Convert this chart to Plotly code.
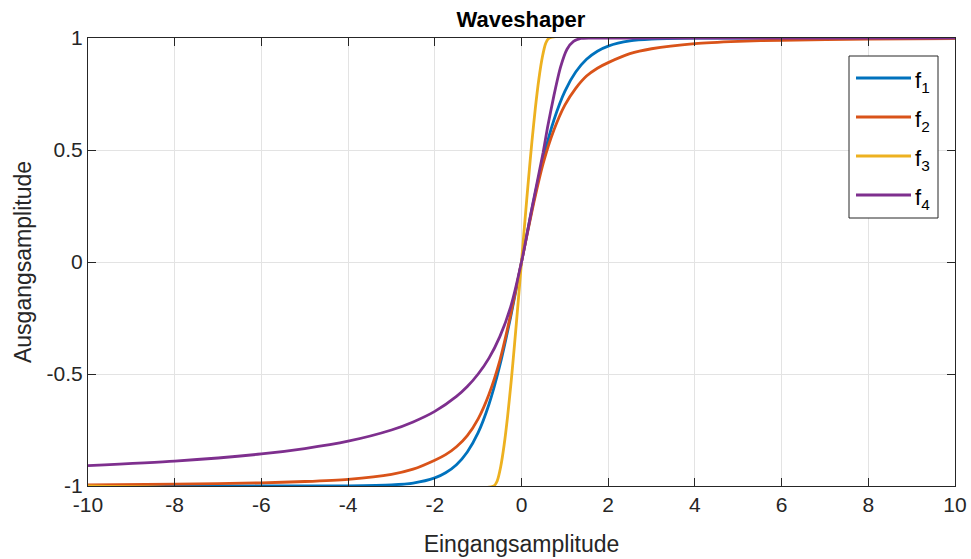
import plotly.graph_objects as go

# f1 (blue)
x1 = [-10, -6, -4, -3, -2.5, -2, -1.75, -1.5, -1.25, -1, -0.75, -0.5, -0.25, 0,
      0.25, 0.5, 0.75, 1, 1.25, 1.5, 1.75, 2, 2.5, 3, 4, 6, 10]
y1 = [-1.0, -1.0, -0.999, -0.995, -0.987, -0.964, -0.941, -0.905, -0.848, -0.762, -0.635, -0.462, -0.245, 0,
      0.245, 0.462, 0.635, 0.762, 0.848, 0.905, 0.941, 0.964, 0.987, 0.995, 0.999, 1.0, 1.0]

# f2 (orange)
x2 = [-10, -8, -6, -5, -4, -3, -2.5, -2, -1.75, -1.5, -1.25, -1, -0.75, -0.5, -0.25, 0,
      0.25, 0.5, 0.75, 1, 1.25, 1.5, 1.75, 2, 2.5, 3, 4, 5, 6, 8, 10]
y2 = [-0.995, -0.992, -0.986, -0.98, -0.97, -0.948, -0.925, -0.885, -0.86, -0.825, -0.775, -0.7, -0.59, -0.44, -0.235, 0,
      0.235, 0.44, 0.59, 0.7, 0.775, 0.83, 0.865, 0.89, 0.93, 0.952, 0.975, 0.985, 0.99, 0.995, 0.997]

# f3 (yellow)
x3 = [-10, -0.64, -0.56, -0.48, -0.4, -0.32, -0.24, -0.16, -0.08, 0,
      0.08, 0.16, 0.24, 0.32, 0.4, 0.48, 0.56, 0.64, 10]
y3 = [-1.0, -1.0, -0.977, -0.914, -0.816, -0.688, -0.536, -0.367, -0.186, 0,
      0.186, 0.367, 0.536, 0.688, 0.816, 0.914, 0.977, 1.0, 1.0]

# f4 (purple)
x4 = [-10, -8, -6, -5, -4, -3, -2.5, -2, -1.5, -1.25, -1, -0.75, -0.5, -0.25, 0,
      0.25, 0.5, 0.6, 0.75, 0.9, 1.05, 1.2, 1.37, 1.6, 10]
y4 = [-0.909, -0.889, -0.857, -0.833, -0.8, -0.75, -0.714, -0.667, -0.6, -0.556, -0.5, -0.429, -0.333, -0.2, 0,
      0.25, 0.49, 0.6, 0.745, 0.87, 0.95, 0.985, 0.998, 1.0, 1.0]

names = ["f<sub>1</sub>", "f<sub>2</sub>", "f<sub>3</sub>", "f<sub>4</sub>"]
colors = ["#0072BD", "#D95319", "#EDB120", "#7E2F8E"]

x_ticks = [-10, -8, -6, -4, -2, 0, 2, 4, 6, 8, 10]
y_ticks = [-1, -0.5, 0, 0.5, 1]
y_ticklabels = ["-1", "-0.5", "0", "0.5", "1"]

FONT = "Liberation Sans, Arial, sans-serif"
W, H = 971, 559
L, R, T, B = 88, 16, 38, 73
PW, PH = W - L - R, H - T - B

fig = go.Figure()
for xs, ys, nm, c in zip([x1, x2, x3, x4], [y1, y2, y3, y4], names, colors):
    fig.add_trace(go.Scatter(x=xs, y=ys, mode="lines", name=nm, showlegend=False,
                             line=dict(color=c, width=2.8, shape="spline", smoothing=0.6)))

axis_common = dict(
    showline=True, linecolor="#262626", linewidth=1, mirror="ticks",
    ticks="inside", ticklen=8, tickwidth=1, tickcolor="#262626",
    showgrid=True, gridcolor="#e3e3e3", gridwidth=1, zeroline=False, automargin=False,
    tickfont=dict(family=FONT, size=21, color="#262626"),
)

def px(xp):
    return (xp - L) / PW

def py(yp):
    return 1 - (yp - T) / PH

# MATLAB-style legend box
shapes = [dict(type="rect", xref="paper", yref="paper",
               x0=px(849), x1=px(938), y0=py(218), y1=py(56),
               line=dict(color="#262626", width=1), fillcolor="white", layer="above")]
annotations = []
for i, (nm, c) in enumerate(zip(names, colors)):
    yc = 78 + i * 39
    shapes.append(dict(type="line", xref="paper", yref="paper",
                       x0=px(856), x1=px(911), y0=py(yc), y1=py(yc),
                       line=dict(color=c, width=2.8), layer="above"))
    annotations.append(dict(text=nm, xref="paper", yref="paper", x=px(913), y=py(yc + 4),
                            xanchor="left", yanchor="middle", showarrow=False,
                            font=dict(family=FONT, size=22, color="black")))

fig.update_layout(
    width=W, height=H,
    paper_bgcolor="white", plot_bgcolor="white",
    margin=dict(l=L, r=R, t=T, b=B),
    title=dict(text="<b>Waveshaper</b>", x=(521 / W), xanchor="center", y=1 - 19 / H, yanchor="middle",
               automargin=False, font=dict(family=FONT, size=22, color="black")),
    xaxis=dict(range=[-10, 10], tickvals=x_ticks, ticktext=[str(v) for v in x_ticks],
               title=dict(text="Eingangsamplitude", standoff=20,
                          font=dict(family=FONT, size=23, color="#262626")),
               **axis_common),
    yaxis=dict(range=[-1, 1], tickvals=y_ticks, ticktext=y_ticklabels,
               title=dict(text="Ausgangsamplitude", standoff=8,
                          font=dict(family=FONT, size=23, color="#262626")),
               **axis_common),
    shapes=shapes,
    annotations=annotations,
    showlegend=False,
)

fig.write_html("out.html", config={"displayModeBar": False},
               post_script="document.body.style.margin='0';document.body.style.padding='0';")
